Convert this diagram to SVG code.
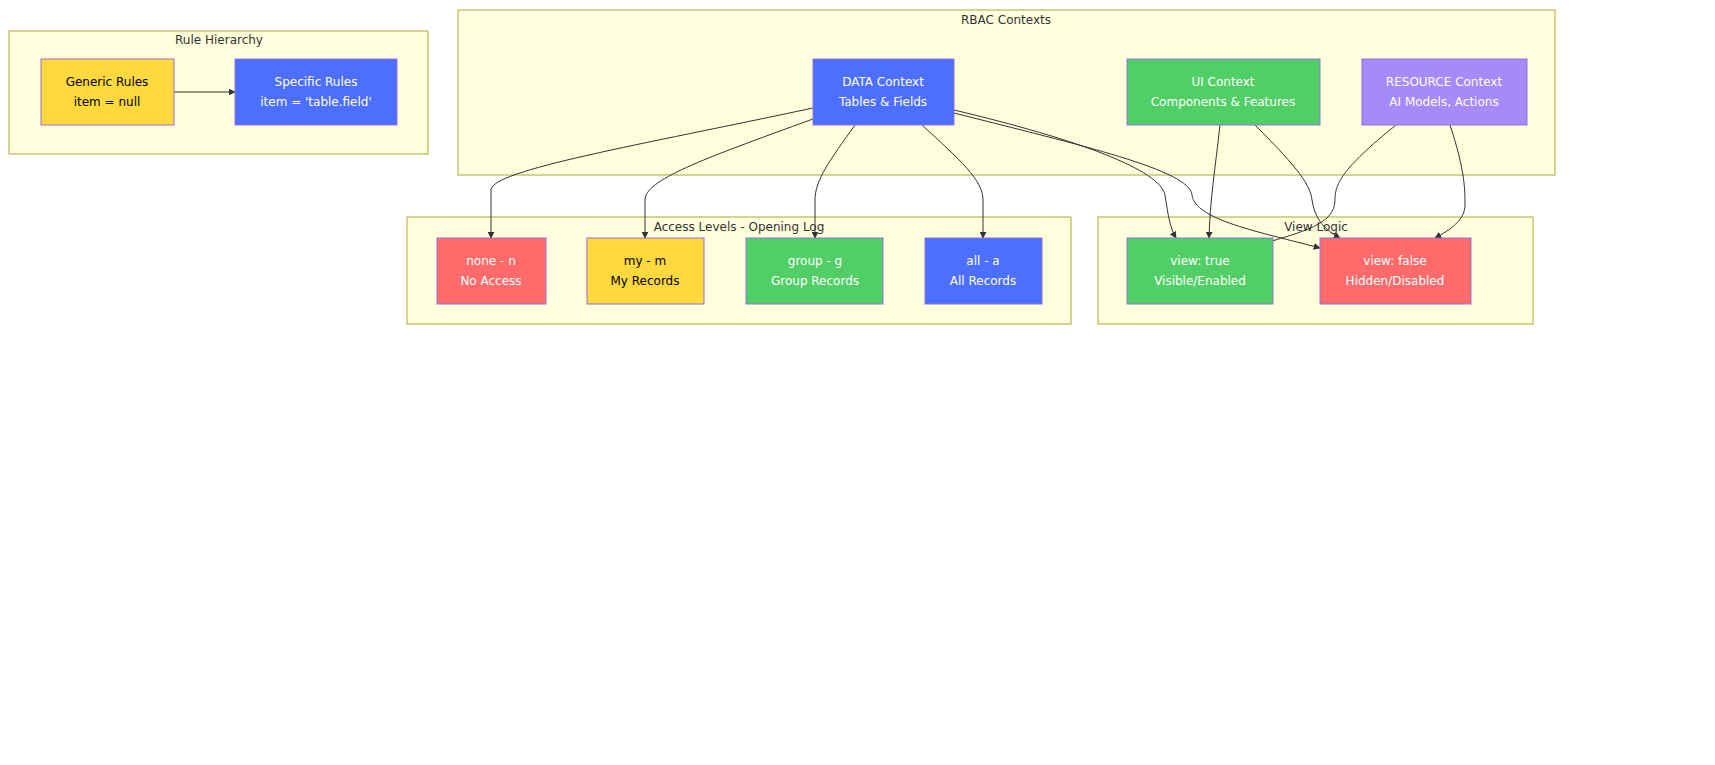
<svg xmlns="http://www.w3.org/2000/svg" width="1715" height="765" viewBox="0 0 1715 765">
<style>
.cl{fill:#ffffde;stroke:#aaaa33;stroke-width:1}
.ct{font-family:"DejaVu Sans",sans-serif;font-size:12px;fill:#333;text-anchor:middle}
.n{stroke:#9370db;stroke-width:1}
.t{font-family:"DejaVu Sans",sans-serif;font-size:12px;fill:#fff;text-anchor:middle}
.k{fill:#000}
.e{fill:none;stroke:#333;stroke-width:1}
</style>
<defs><marker id="a" viewBox="0 0 10 10" refX="9" refY="5" markerWidth="7" markerHeight="7" orient="auto"><path d="M0,0L10,5L0,10z" fill="#333"/></marker></defs>
<rect width="1715" height="765" fill="#fff"/>
<g id="clusters">
<rect class="cl" x="9" y="31" width="419" height="123"/><text class="ct" x="219" y="44">Rule Hierarchy</text>
<rect class="cl" x="458" y="10" width="1097" height="165"/><text class="ct" x="1006" y="24">RBAC Contexts</text>
<rect class="cl" x="407" y="217" width="664" height="107"/><text class="ct" x="739" y="231">Access Levels - Opening Log</text>
<rect class="cl" x="1098" y="217" width="435" height="107"/><text class="ct" x="1316" y="231">View Logic</text>
</g>
<g id="connectors">
<path class="e" d="M174,92L235,92" marker-end="url(#a)"/>
<path class="e" d="M813,108C640,145 491,170 491,190L491,238" marker-end="url(#a)"/>
<path class="e" d="M813,119C700,160 645,180 645,200L645,238" marker-end="url(#a)"/>
<path class="e" d="M855,125C830,160 815,180 815,200L815,238" marker-end="url(#a)"/>
<path class="e" d="M922,125C960,160 983,180 983,200L983,238" marker-end="url(#a)"/>
<path class="e" d="M954,110C1080,140 1160,170 1165,195C1168,215 1170,228 1176,238" marker-end="url(#a)"/>
<path class="e" d="M954,113C1080,145 1190,170 1192,195C1195,220 1260,232 1320,248" marker-end="url(#a)"/>
<path class="e" d="M1220,125C1215,170 1210,200 1209,238" marker-end="url(#a)"/>
<path class="e" d="M1255,125C1300,170 1310,185 1312,200C1315,220 1325,230 1340,238" marker-end="url(#a)"/>
<path class="e" d="M1396,125C1340,170 1335,185 1335,200C1335,225 1300,232 1266,243" marker-end="url(#a)"/>
<path class="e" d="M1450,125C1465,170 1465,190 1465,205C1465,220 1450,230 1435,238" marker-end="url(#a)"/>
</g>
<g id="generic"><rect class="n" x="41" y="59" width="133" height="66" fill="#ffd93d"/><text class="t k" x="107" y="86">Generic Rules</text><text class="t k" x="107" y="106">item = null</text></g>
<g id="specific"><rect class="n" x="235" y="59" width="162" height="66" fill="#4c6fff"/><text class="t" x="316" y="86">Specific Rules</text><text class="t" x="316" y="106">item = 'table.field'</text></g>
<g id="data"><rect class="n" x="813" y="59" width="141" height="66" fill="#4c6fff"/><text class="t" x="883" y="86">DATA Context</text><text class="t" x="883" y="106">Tables &amp; Fields</text></g>
<g id="ui"><rect class="n" x="1127" y="59" width="193" height="66" fill="#51cf66"/><text class="t" x="1223" y="86">UI Context</text><text class="t" x="1223" y="106">Components &amp; Features</text></g>
<g id="resource"><rect class="n" x="1362" y="59" width="165" height="66" fill="#a68af9"/><text class="t" x="1444" y="86">RESOURCE Context</text><text class="t" x="1444" y="106">AI Models, Actions</text></g>
<g id="none"><rect class="n" x="437" y="238" width="109" height="66" fill="#ff6b6b"/><text class="t" x="491" y="265">none - n</text><text class="t" x="491" y="285">No Access</text></g>
<g id="my"><rect class="n" x="587" y="238" width="117" height="66" fill="#ffd93d"/><text class="t k" x="645" y="265">my - m</text><text class="t k" x="645" y="285">My Records</text></g>
<g id="group"><rect class="n" x="746" y="238" width="137" height="66" fill="#51cf66"/><text class="t" x="815" y="265">group - g</text><text class="t" x="815" y="285">Group Records</text></g>
<g id="all"><rect class="n" x="925" y="238" width="117" height="66" fill="#4c6fff"/><text class="t" x="983" y="265">all - a</text><text class="t" x="983" y="285">All Records</text></g>
<g id="viewtrue"><rect class="n" x="1127" y="238" width="146" height="66" fill="#51cf66"/><text class="t" x="1200" y="265">view: true</text><text class="t" x="1200" y="285">Visible/Enabled</text></g>
<g id="viewfalse"><rect class="n" x="1320" y="238" width="151" height="66" fill="#ff6b6b"/><text class="t" x="1395" y="265">view: false</text><text class="t" x="1395" y="285">Hidden/Disabled</text></g>
</svg>
